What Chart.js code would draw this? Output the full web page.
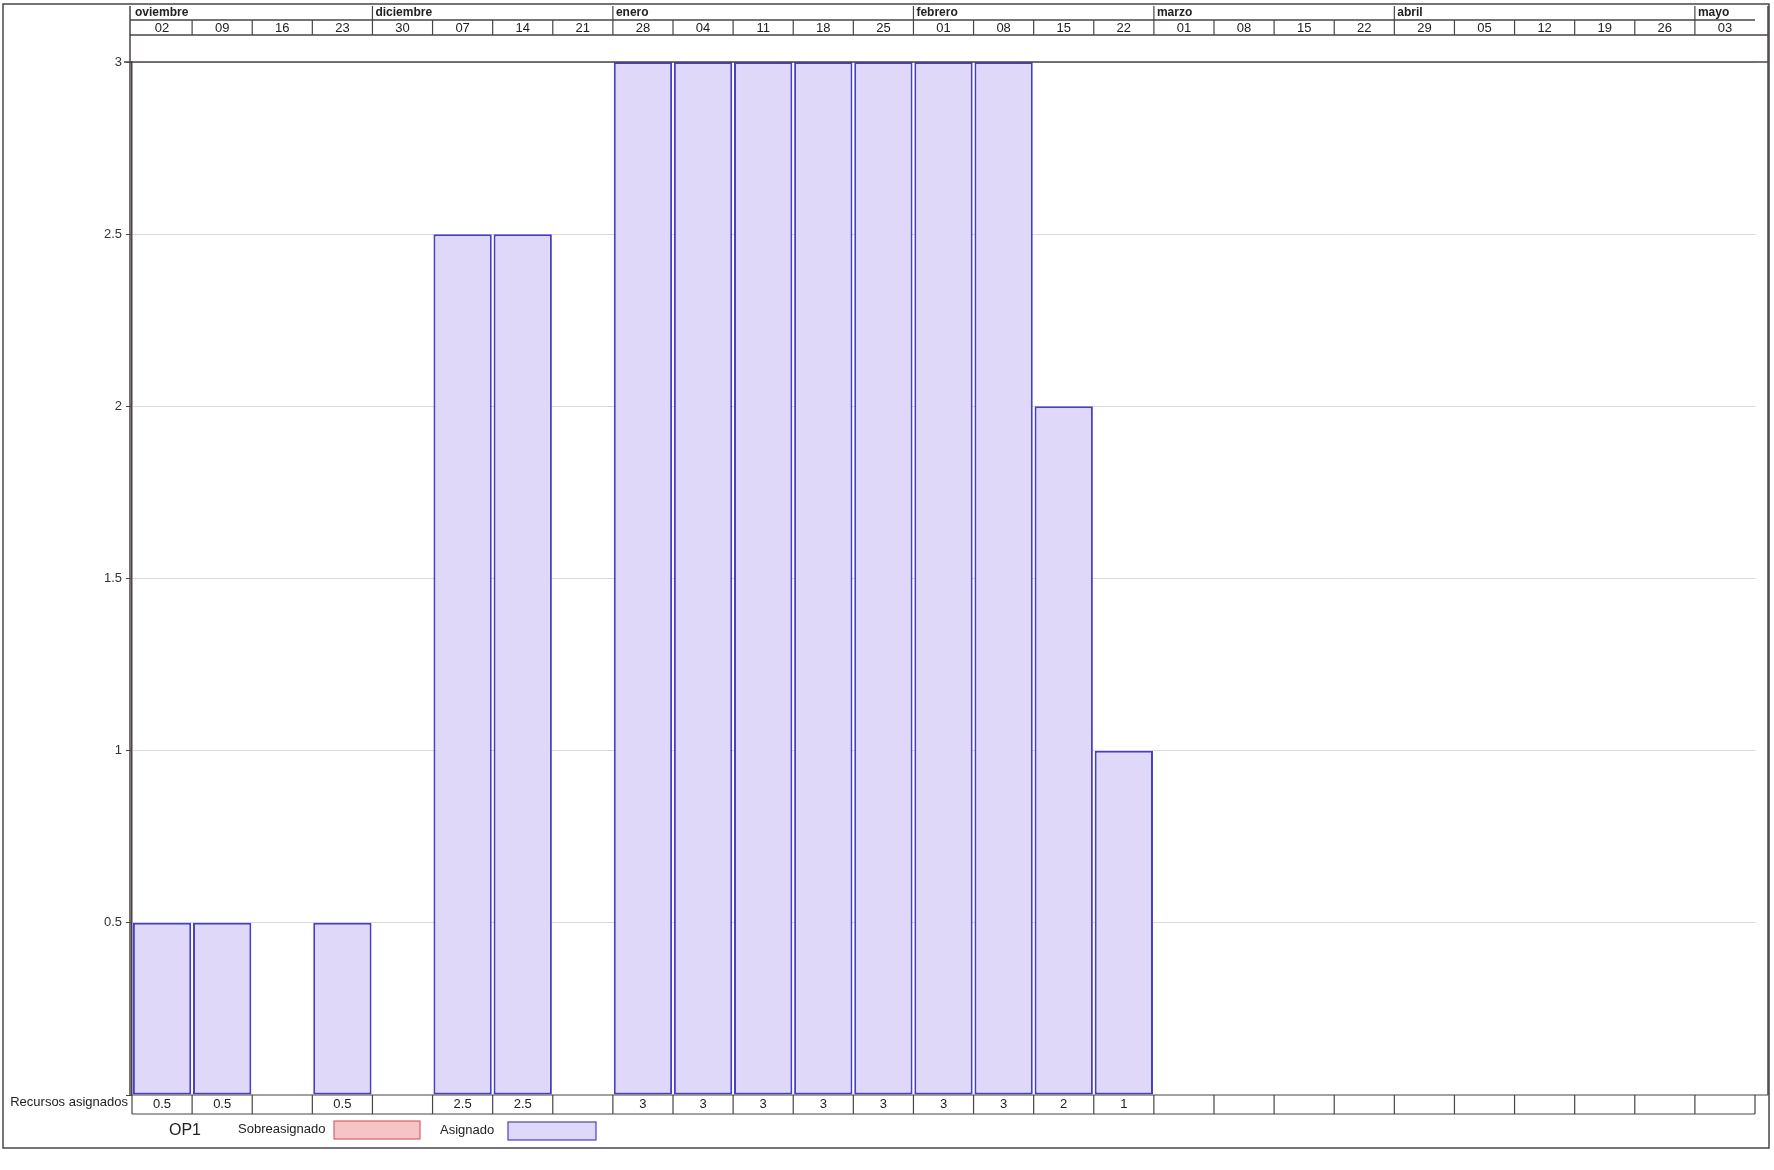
<!DOCTYPE html>
<html>
<head>
<meta charset="utf-8">
<script src="https://cdn.jsdelivr.net/npm/chart.js@4/dist/chart.umd.min.js"></script>
<style>
  body { margin: 0; background: #fff; }
  canvas { display: block; }
</style>
</head>
<body>
<canvas id="canvas-1" width="1774" height="1170"></canvas>
<script>
var weeks = ['02', '09', '16', '23', '30', '07', '14', '21', '28', '04', '11', '18', '25',
    '01', '08', '15', '22', '01', '08', '15', '22', '29', '05', '12', '19', '26', '03'];
var months = ['oviembre', 'diciembre', 'enero', 'febrero', 'marzo', 'abril', 'mayo'];
var monthStart = [0, 4, 8, 13, 17, 21, 26];
var assigned = [0.5, 0.5, null, 0.5, null, 2.5, 2.5, null, 3, 3, 3, 3, 3, 3, 3, 2, 1,
    null, null, null, null, null, null, null, null, null, null];
var yTicks = [0.5, 1, 1.5, 2, 2.5, 3];

var lineColor = '#4a4448';
var narrow = '"Liberation Sans Narrow", "Liberation Sans", Arial, sans-serif';
var sans = '"Liberation Sans", Arial, sans-serif';

// header, bottom table and legend drawn around the plot
var frame = {
    id: 'frame',
    afterDraw: function (chart) {
        var ctx = chart.ctx;
        var x = chart.scales.x;
        var area = chart.chartArea;
        var w = x.getPixelForValue(1) - x.getPixelForValue(0);
        var edge = function (i) { return x.getPixelForValue(i) - w / 2; };
        var right = 1768;
        ctx.save();
        ctx.strokeStyle = lineColor;
        ctx.fillStyle = '#222';
        ctx.lineWidth = 1.5;

        // outer frame
        ctx.strokeRect(3, 4, 1766, 1144);

        // header rows
        var hTop = 6, hMid = 20, hBot = 35;
        ctx.beginPath();
        ctx.moveTo(area.left - 2, hMid); ctx.lineTo(edge(weeks.length), hMid);
        ctx.moveTo(area.left - 2, hBot); ctx.lineTo(right, hBot);
        ctx.moveTo(area.left - 2, hTop); ctx.lineTo(area.left - 2, area.bottom);
        ctx.moveTo(right, hTop); ctx.lineTo(right, area.bottom);
        ctx.stroke();

        ctx.lineWidth = 1.2;
        ctx.font = 'bold 12px ' + sans;
        ctx.textBaseline = 'middle';
        ctx.textAlign = 'left';
        months.forEach(function (m, k) {
            var px = edge(monthStart[k]);
            if (k > 0) {
                ctx.beginPath(); ctx.moveTo(px, hTop); ctx.lineTo(px, hMid); ctx.stroke();
            }
            ctx.fillText(m, px + 3, 13);
        });

        ctx.font = '13px ' + narrow;
        ctx.textAlign = 'center';
        weeks.forEach(function (d, i) {
            if (i > 0) {
                ctx.beginPath(); ctx.moveTo(edge(i), hMid); ctx.lineTo(edge(i), hBot); ctx.stroke();
            }
            ctx.fillText(d, x.getPixelForValue(i), 28);
        });

        // dark top line at value 3
        var y3 = chart.scales.y.getPixelForValue(3);
        ctx.lineWidth = 1.5;
        ctx.beginPath(); ctx.moveTo(area.left - 8, y3); ctx.lineTo(right, y3); ctx.stroke();

        // table of assigned resources
        var tTop = area.bottom, tBot = area.bottom + 19;
        ctx.fillStyle = '#fff';
        ctx.fillRect(edge(0), tTop, edge(weeks.length) - edge(0), tBot - tTop);
        ctx.lineWidth = 1.2;
        ctx.beginPath();
        ctx.moveTo(edge(0), tTop); ctx.lineTo(right, tTop);
        ctx.moveTo(edge(0), tBot); ctx.lineTo(edge(weeks.length), tBot);
        for (var i = 0; i <= weeks.length; i++) {
            ctx.moveTo(edge(i), tTop); ctx.lineTo(edge(i), tBot);
        }
        ctx.stroke();
        ctx.fillStyle = '#222';
        ctx.font = '13px ' + narrow;
        assigned.forEach(function (v, i) {
            if (v !== null) ctx.fillText(String(v), x.getPixelForValue(i), (tTop + tBot) / 2);
        });
        ctx.textAlign = 'right';
        ctx.font = '13px ' + narrow;
        ctx.fillText('Recursos asignados', area.left - 4, tTop + 7);

        // legend
        var ly = 1131;
        ctx.textAlign = 'center';
        ctx.font = '16px ' + sans;
        ctx.fillText('OP1', 185, ly);
        ctx.textAlign = 'left';
        ctx.font = '13px ' + narrow;
        ctx.fillText('Sobreasignado', 238, ly - 2);
        ctx.fillStyle = '#f6c3c6';
        ctx.strokeStyle = '#d9606a';
        ctx.fillRect(334, ly - 10, 86, 18);
        ctx.strokeRect(334, ly - 10, 86, 18);
        ctx.fillStyle = '#222';
        ctx.fillText('Asignado', 440, ly - 1);
        ctx.fillStyle = '#e0d8f8';
        ctx.strokeStyle = '#4840c4';
        ctx.fillRect(508, ly - 9, 88, 18);
        ctx.strokeRect(508, ly - 9, 88, 18);
        ctx.restore();
    }
};

var ctx = document.getElementById('canvas-1');
var chart = new Chart(ctx, {
    type: 'bar',
    data: {
        labels: weeks,
        datasets: [{
            label: 'Asignado',
            data: assigned,
            backgroundColor: '#e0d8f8',
            borderColor: '#4840c4',
            borderWidth: 2,
            borderSkipped: false,
            barPercentage: 0.97,
            categoryPercentage: 1
        }]
    },
    options: {
        responsive: false,
        animation: false,
        layout: {
            padding: { left: 0, right: 19, top: 62, bottom: 75 }
        },
        plugins: {
            legend: { display: false },
            tooltip: { enabled: false }
        },
        scales: {
            x: {
                display: false
            },
            y: {
                min: 0,
                max: 3,
                afterFit: function (scale) { scale.width = 132; },
                afterBuildTicks: function (scale) {
                    scale.ticks = [{ value: 0 }].concat(yTicks.map(function (v) { return { value: v }; }));
                },
                ticks: {
                    color: '#333',
                    font: { family: narrow, size: 13 },
                    padding: 4,
                    callback: function (v) { return v === 0 ? '' : String(v); }
                },
                grid: {
                    color: function (c) { return c.tick && c.tick.value === 0 ? 'rgba(0,0,0,0)' : '#dcd9dc'; },
                    tickColor: lineColor,
                    tickLength: 6,
                    lineWidth: 1
                },
                border: { display: true, color: lineColor, width: 1.5 }
            }
        }
    },
    plugins: [frame]
});
</script>
</body>
</html>
